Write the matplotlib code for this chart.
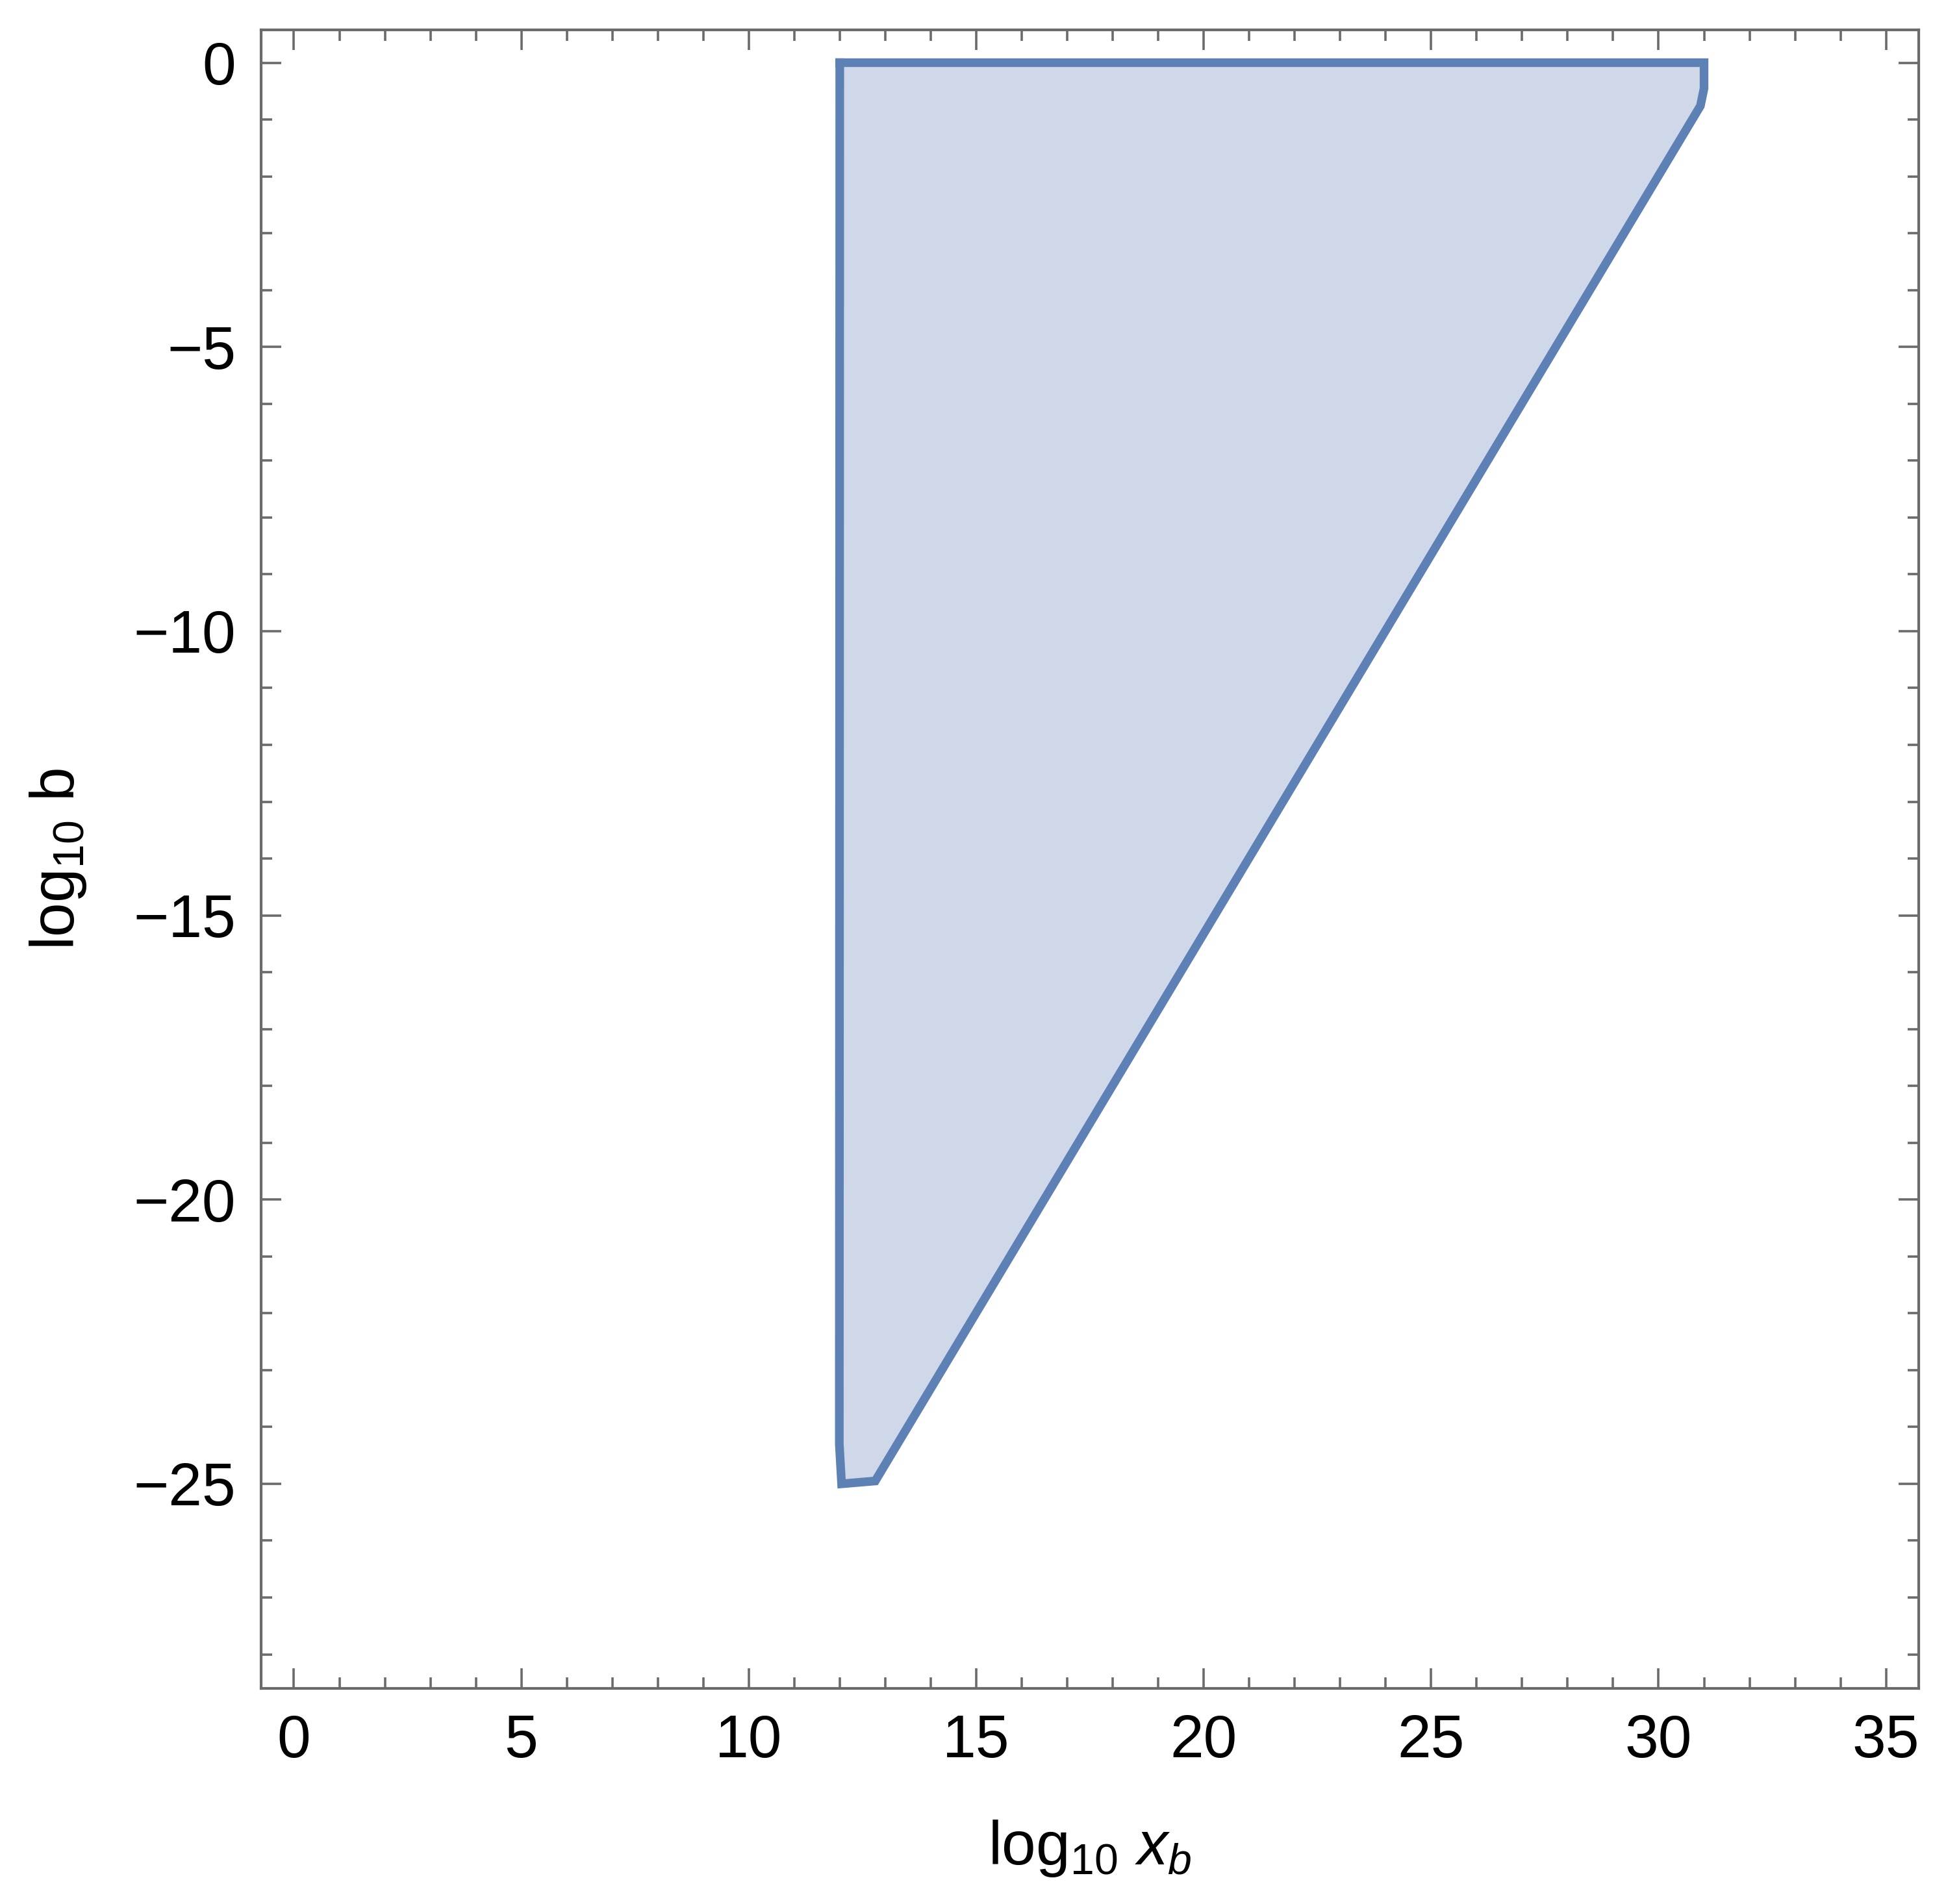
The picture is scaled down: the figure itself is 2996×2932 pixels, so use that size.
import numpy as np
import matplotlib
matplotlib.use("Agg")
import matplotlib.pyplot as plt
from matplotlib.ticker import MultipleLocator

# Region boundary (log10 x_b, log10 b)
boundary_x = [12.0, 31.0, 31.0, 30.92, 12.78, 12.04, 11.99, 12.0]
boundary_y = [0.0, 0.0, -0.45, -0.76, -24.95, -25.0, -24.3, 0.0]

x_ticks = [0, 5, 10, 15, 20, 25, 30, 35]
y_ticks = [0, -5, -10, -15, -20, -25]

plt.rcParams['font.family'] = ['Liberation Sans', 'DejaVu Sans']
plt.rcParams['mathtext.fontset'] = 'custom'
plt.rcParams['mathtext.rm'] = 'Liberation Sans'
plt.rcParams['mathtext.it'] = 'Liberation Sans:italic'

edge = '#5E81B5'
frame = '#6B6B6B'

fig = plt.figure(figsize=(14.98, 14.66), dpi=200)
ax = fig.add_axes([0.1342, 0.1132, 0.8518, 0.8712])

ax.fill(boundary_x, boundary_y, facecolor=edge, alpha=0.3, edgecolor='none')
ax.plot(boundary_x, boundary_y, color=edge, lw=4.8, solid_joinstyle='miter')

ax.set_xlim(-0.72, 35.72)
ax.set_ylim(-28.6, 0.58)
ax.set_xticks(x_ticks)
ax.set_yticks(y_ticks)
ax.xaxis.set_minor_locator(MultipleLocator(1))
ax.yaxis.set_minor_locator(MultipleLocator(1))

for s in ax.spines.values():
    s.set_color(frame)
    s.set_linewidth(1.5)

ax.tick_params(which='both', direction='in', top=True, right=True,
               color=frame, width=1.3, labelsize=33.5, labelcolor='black')
ax.tick_params(which='major', length=11, pad=14)
ax.tick_params(which='minor', length=6)

ax.set_xlabel(r'$\mathrm{log}_{10}\ x_b$', fontsize=34, labelpad=27)
ax.set_ylabel(r'$\mathrm{log}_{10}$ b', fontsize=34, labelpad=25)

fig.savefig('out.png', dpi=200)
